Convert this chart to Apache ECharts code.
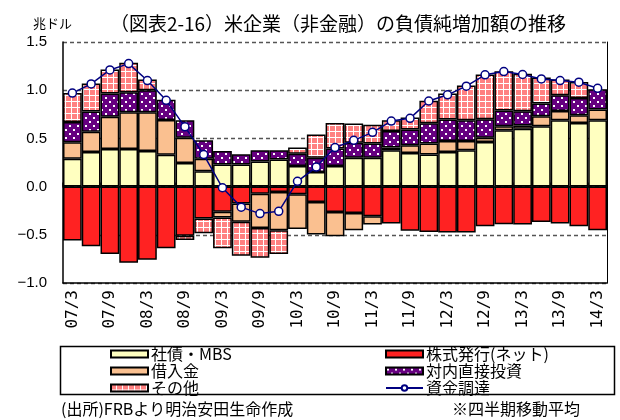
<!DOCTYPE html>
<html>
<head>
<meta charset="utf-8">
<script src="https://cdn.jsdelivr.net/npm/echarts@6/dist/echarts.min.js"></script>
<style>
  html, body { margin: 0; padding: 0; background: #fff; }
  #chart { width: 620px; height: 420px; }
</style>
</head>
<body>
<div id="chart"></div>
<script>
// Quarterly periods, 2007 Q1 .. 2014 Q1 (year/month)
const quarters = ['07/3','07/6','07/9','07/12','08/3','08/6','08/9','08/12',
  '09/3','09/6','09/9','09/12','10/3','10/6','10/9','10/12',
  '11/3','11/6','11/9','11/12','12/3','12/6','12/9','12/12',
  '13/3','13/6','13/9','13/12','14/3'];

// Net increase in liabilities by instrument (trillion USD, 4-quarter moving average)
const bondsMbs = [0.29,0.36,0.39,0.39,0.37,0.33,0.245,0.16,0.23,0.23,0.26,0.28,0.214,0.152,0.214,0.30,
  0.30,0.377,0.349,0.332,0.359,0.377,0.463,0.584,0.60,0.625,0.688,0.66,0.688];
const loans = [0.17,0.21,0.335,0.38,0.40,0.36,0.263,0.13,-0.06,-0.19,-0.357,-0.397,-0.36,-0.337,-0.252,-0.179,
  -0.086,0.028,0.08,0.114,0.114,0.096,0.045,0.041,0.034,0.104,0.096,0.08,0.112];
const equityNet = [-0.56,-0.62,-0.70,-0.79,-0.76,-0.64,-0.51,-0.33,-0.26,-0.175,-0.073,-0.056,-0.08,-0.16,-0.263,-0.274,
  -0.308,-0.384,-0.457,-0.47,-0.477,-0.477,-0.412,-0.39,-0.394,-0.367,-0.384,-0.412,-0.453];
const fdi = [0.21,0.21,0.24,0.21,0.23,0.21,0.18,0.19,0.14,0.105,0.117,0.097,0.128,0.148,0.18,0.155,
  0.146,0.172,0.163,0.21,0.222,0.215,0.19,0.165,0.148,0.132,0.163,0.179,0.21];
const other = [0.30,0.29,0.25,0.305,0.11,null,-0.045,-0.155,-0.32,-0.353,-0.307,-0.247,0.063,0.24,0.266,0.20,
  0.195,0.11,0.125,0.235,0.27,0.362,0.464,0.406,0.388,0.27,0.163,0.166,null];
const funding = [0.97,1.065,1.21,1.276,1.10,0.895,0.62,0.332,-0.012,-0.213,-0.28,-0.256,0.055,0.203,0.405,0.48,
  0.563,0.68,0.708,0.888,0.952,1.042,1.16,1.193,1.163,1.117,1.10,1.083,1.02];

const yTicks = { min: -1, max: 1.5, step: 0.5 };

const JP = '"Noto Sans CJK JP", "Noto Sans", sans-serif';

// Fill patterns
function gridTile() {
  const c = document.createElement('canvas');
  c.width = 6; c.height = 6;
  const g = c.getContext('2d');
  g.fillStyle = '#FF8080'; g.fillRect(0, 0, 6, 6);
  g.fillStyle = '#FFFFFF';
  g.fillRect(5, 0, 1, 6);
  g.fillRect(0, 5, 6, 1);
  return c;
}
function dotTile() {
  const c = document.createElement('canvas');
  c.width = 8; c.height = 8;
  const g = c.getContext('2d');
  g.fillStyle = '#660080'; g.fillRect(0, 0, 8, 8);
  g.fillStyle = '#FFFFFF';
  g.fillRect(1, 1, 2, 2);
  g.fillRect(5, 5, 2, 2);
  return c;
}
const pinkGrid = { image: gridTile(), repeat: 'repeat' };
const purpleDots = { image: dotTile(), repeat: 'repeat' };

function barSeries(name, data, color) {
  return {
    name, type: 'bar', stack: 'total', data,
    barCategoryGap: '0%',
    itemStyle: { color, borderColor: '#000', borderWidth: 1.5 },
    emphasis: { disabled: true }
  };
}

const legendText = { fontFamily: JP, fontSize: 16, lineHeight: 14, color: '#000', padding: [0, 0, 0, -2] };

const chart = echarts.init(document.getElementById('chart'), null, { renderer: 'canvas' });

chart.setOption({
  animation: false,
  backgroundColor: '#fff',
  title: {
    text: '（図表2-16）米企業（非金融）の負債純増加額の推移',
    left: 333, top: 9, textAlign: 'center',
    textStyle: { fontFamily: JP, fontSize: 19, fontWeight: 'normal', color: '#000' }
  },
  grid: { left: 63, right: 13, top: 42, bottom: 137 },
  legend: [
    {
      orient: 'vertical', left: 110, top: 346, padding: 0,
      itemWidth: 37, itemHeight: 7, itemGap: 1,
      textStyle: legendText,
      data: [{ name: '社債・MBS', icon: 'rect' }, { name: '借入金', icon: 'rect' }, { name: 'その他', icon: 'rect' }]
    },
    {
      orient: 'vertical', left: 385, top: 346, padding: 0,
      itemWidth: 37, itemHeight: 7, itemGap: 1,
      textStyle: legendText,
      data: [{ name: '株式発行(ネット)', icon: 'rect' }, { name: '対内直接投資', icon: 'rect' }, { name: '資金調達' }]
    }
  ],
  xAxis: [
    {
      type: 'category', data: quarters, position: 'bottom',
      axisLine: { onZero: false, lineStyle: { color: '#000', width: 1.5 } },
      axisTick: { show: false },
      axisLabel: {
        interval: 1, rotate: 90, margin: 7,
        fontFamily: '"DejaVu Sans Mono", monospace', fontSize: 16, color: '#000'
      }
    },
    {
      type: 'category', data: quarters, position: 'bottom',
      axisLine: { onZero: true, lineStyle: { color: '#000', width: 1.5 } },
      axisTick: { show: true, inside: true, length: 4, interval: 1, lineStyle: { color: '#000', width: 1.5 } },
      axisLabel: { show: false }
    }
  ],
  yAxis: [
    {
      type: 'value', min: yTicks.min, max: yTicks.max, interval: yTicks.step,
      axisLine: { show: true, lineStyle: { color: '#000', width: 1.5 } },
      axisTick: { show: false },
      splitLine: { show: true, lineStyle: { color: '#555', width: 1.3, type: [4, 3] } },
      axisLabel: {
        margin: 16, fontFamily: '"Liberation Sans", Arial, sans-serif', fontSize: 15, color: '#000',
        formatter: v => (v < 0 ? '−' : '') + Math.abs(v).toFixed(1)
      }
    },
    {
      type: 'value', min: yTicks.min, max: yTicks.max, interval: yTicks.step, position: 'right',
      axisLine: { show: true, lineStyle: { color: '#000', width: 1 } },
      axisTick: { show: false }, axisLabel: { show: false }, splitLine: { show: false }
    }
  ],
  series: [
    barSeries('社債・MBS', bondsMbs, '#FFFFC0'),
    barSeries('株式発行(ネット)', equityNet, '#FF2222'),
    barSeries('借入金', loans, '#FAC090'),
    barSeries('対内直接投資', fdi, purpleDots),
    barSeries('その他', other, pinkGrid),
    {
      name: '資金調達', type: 'line', data: funding, z: 5,
      symbol: 'circle', symbolSize: 8,
      lineStyle: { color: '#000080', width: 1.5 },
      itemStyle: { color: '#FFFFFF', borderColor: '#000080', borderWidth: 1.5 },
      emphasis: { disabled: true }
    }
  ],
  graphic: [
    { type: 'text', left: 33, top: 17, style: { text: '兆ドル', fontFamily: JP, fontSize: 13, fill: '#000' } },
    { type: 'rect', left: 58, top: 344, shape: { width: 554, height: 48 },
      style: { fill: 'none', stroke: '#000', lineWidth: 1.5 } },
    { type: 'text', left: 61, top: 401, style: { text: '(出所)FRBより明治安田生命作成', fontFamily: JP, fontSize: 16, fill: '#000' } },
    { type: 'text', left: 452, top: 401, style: { text: '※四半期移動平均', fontFamily: JP, fontSize: 16, fill: '#000' } }
  ]
});
</script>
</body>
</html>
